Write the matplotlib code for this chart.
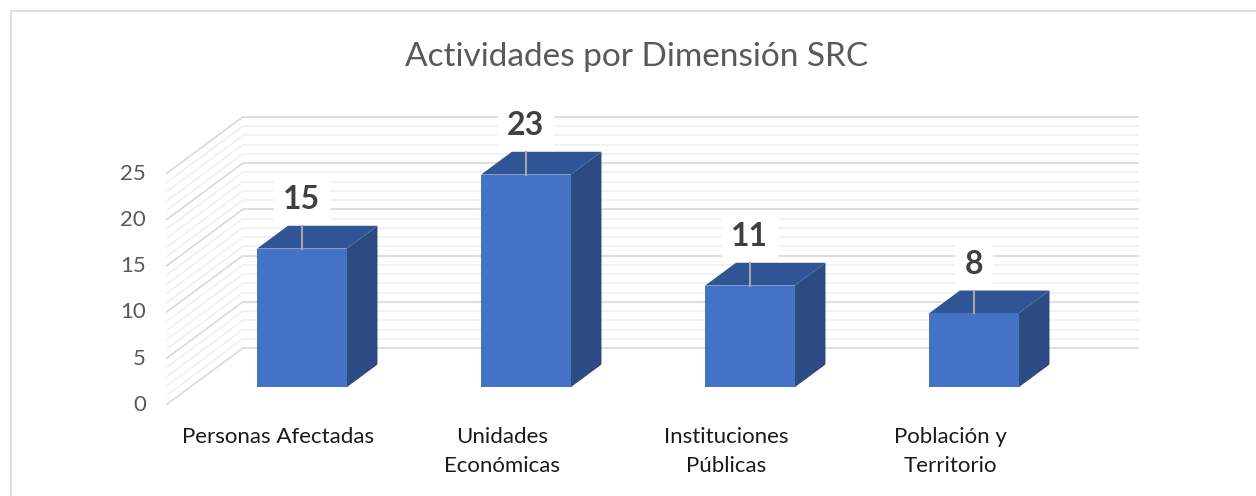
import matplotlib
matplotlib.use("Agg")
import matplotlib.pyplot as plt
from matplotlib.patches import Polygon, Rectangle

# ======== data ==========
categories = ["Personas Afectadas", "Unidades\nEconómicas",
              "Instituciones\nPúblicas", "Población y\nTerritorio"]
values = [15, 23, 11, 8]
y_ticks = [0, 5, 10, 15, 20, 25]
y_max = 25

plt.rcParams['font.family'] = ['Lato', 'DejaVu Sans']

W, H = 1256, 496
fig = plt.figure(figsize=(W / 100, H / 100), dpi=100)
ax = fig.add_axes([0, 0, 1, 1])
ax.axis('off')

# ======== fake 3D geometry ==========
# front plane: one category = 224 px, one unit = 9.25 px
cat_px, val_px = 224, 9.25
x0_px, y0_px = 278, 405
ax.set_xlim(-x0_px / cat_px, (W - x0_px) / cat_px)
ax.set_ylim((y0_px - H) / val_px, y0_px / val_px)

# oblique offset from the front plane (d=0) to the back wall (d=1)
depth_dx = 77 / cat_px
depth_dy = 57 / val_px


def proj(c, v, d):
    return c + d * depth_dx, v + d * depth_dy


left, right = -0.5, len(categories) - 0.5

# walls: minor grid every 1, major every 5
for major in (False, True):
    for v in range(0, y_max + 1):
        if (v % 5 == 0) != major:
            continue
        col = '#d9d9d9' if major else '#f0f0f0'
        a, b = proj(left, v, 0), proj(left, v, 1)
        ax.plot([a[0], b[0]], [a[1], b[1]], color=col, lw=1.2, zorder=1,
                solid_capstyle='butt')
        a, b = proj(left, v, 1), proj(right, v, 1)
        ax.plot([a[0], b[0]], [a[1], b[1]], color=col, lw=1.2, zorder=1,
                solid_capstyle='butt')

# y tick labels on the front edge
for t in y_ticks:
    ax.text((146 - x0_px) / cat_px, t, str(t), ha='right', va='center',
            fontsize=16, color='#595959')

# ======== bars ==========
bar_w = 0.4
d0, d1 = 0.31, 0.71
for i, v in enumerate(values):
    xl, xr = i - bar_w / 2, i + bar_w / 2
    front = [proj(xl, 0, d0), proj(xr, 0, d0), proj(xr, v, d0), proj(xl, v, d0)]
    side = [proj(xr, 0, d0), proj(xr, 0, d1), proj(xr, v, d1), proj(xr, v, d0)]
    top = [proj(xl, v, d0), proj(xr, v, d0), proj(xr, v, d1), proj(xl, v, d1)]
    ax.add_patch(Polygon(side, closed=True, fc='#2B4B82', ec='none', zorder=3))
    ax.add_patch(Polygon(top, closed=True, fc='#2F5597', ec='none', zorder=3))
    ax.add_patch(Polygon(front, closed=True, fc='#4472C4', ec='none', zorder=3))

    # data label with leader line
    lx, ly_front = proj(i, v, d0)
    _, ly_back = proj(i, v, d1)
    ax.plot([lx, lx], [ly_front, ly_back], color='#a6a6a6', lw=1.5, zorder=4)
    ax.text(lx, ly_back + 12 / val_px, str(v), ha='center', va='bottom',
            fontsize=23, fontweight='bold', color='#404040', zorder=5,
            bbox=dict(boxstyle='square,pad=0.3', fc='white', ec='none'))

# category labels
for i, lab in enumerate(categories):
    ax.text(i, (y0_px - 427) / val_px, lab, ha='center', va='top',
            multialignment='center', fontsize=16, color='#1a1a1a',
            linespacing=1.55)

fig.text(637 / W, 1 - 57 / H, 'Actividades por Dimensión SRC', ha='center',
         va='center', fontsize=24, color='#595959')

# chart frame (right and bottom edges fall outside the picture)
fig.patches.append(Rectangle((11 / W, -0.1), 2, (H - 11) / H + 0.1,
                             transform=fig.transFigure, fill=False,
                             ec='#d9d9d9', lw=1.2))

fig.savefig('out.png', dpi=100)
